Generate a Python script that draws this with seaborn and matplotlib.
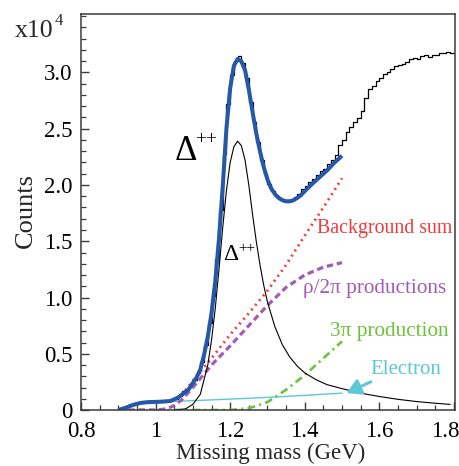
import numpy as np
import pandas as pd
import matplotlib
matplotlib.use("Agg")
import matplotlib.pyplot as plt
import matplotlib.transforms as mtransforms
import seaborn as sns
from matplotlib.ticker import FixedLocator, MultipleLocator

# ---------------- data (values in units of 1e4 counts) ----------------
hist_edges_left = [round(0.90 + 0.01 * i, 2) for i in range(90)]
hist_counts = [
    0.01, 0.02, 0.03, 0.05, 0.06, 0.065, 0.07, 0.07, 0.072, 0.07,      # 0.90-0.99
    0.075, 0.075, 0.078, 0.08, 0.09, 0.10, 0.125, 0.17, 0.18, 0.22,    # 1.00-1.09
    0.27, 0.33, 0.43, 0.58, 0.77, 1.01, 1.34, 1.78, 2.28, 2.72,        # 1.10-1.19
    2.98, 3.10, 3.15, 3.08, 2.95, 2.74, 2.56, 2.38, 2.22, 2.10,        # 1.20-1.29
    2.01, 1.95, 1.90, 1.88, 1.86, 1.87, 1.87, 1.89, 1.92, 1.96,        # 1.30-1.39
    1.99, 2.03, 2.05, 2.09, 2.12, 2.14, 2.19, 2.22, 2.27, 2.36,        # 1.40-1.49
    2.40, 2.47, 2.52, 2.56, 2.60, 2.66, 2.77, 2.85, 2.88, 2.92,        # 1.50-1.59
    2.95, 2.99, 3.00, 3.03, 3.06, 3.07, 3.08, 3.09, 3.12, 3.13,        # 1.60-1.69
    3.12, 3.15, 3.16, 3.14, 3.16, 3.16, 3.17, 3.17, 3.18, 3.17,        # 1.70-1.79
]
bin_width = 0.01

fit_x = [0.90, 0.92, 0.94, 0.96, 0.98, 1.00, 1.02, 1.04, 1.06, 1.08, 1.09, 1.10,
         1.11, 1.12, 1.13, 1.14, 1.15, 1.16, 1.17, 1.18, 1.19, 1.20, 1.21, 1.22,
         1.23, 1.24, 1.25, 1.26, 1.27, 1.28, 1.29, 1.30, 1.31, 1.32, 1.33, 1.34,
         1.35, 1.36, 1.37, 1.38, 1.39, 1.40, 1.42, 1.44, 1.46, 1.48, 1.50]
fit_y = [0.0, 0.02, 0.045, 0.063, 0.07, 0.072, 0.075, 0.08, 0.11, 0.16, 0.19, 0.24,
         0.29, 0.36, 0.49, 0.65, 0.86, 1.14, 1.52, 1.98, 2.50, 2.86, 3.06, 3.12,
         3.10, 3.02, 2.85, 2.65, 2.46, 2.30, 2.16, 2.05, 1.97, 1.92, 1.885, 1.865,
         1.855, 1.855, 1.865, 1.885, 1.91, 1.945, 2.01, 2.07, 2.13, 2.20, 2.26]

delta_x = [1.05, 1.08, 1.10, 1.12, 1.14, 1.15, 1.16, 1.17, 1.18, 1.19, 1.20, 1.21,
           1.22, 1.23, 1.24, 1.25, 1.26, 1.27, 1.28, 1.29, 1.30, 1.32, 1.34, 1.36,
           1.38, 1.40, 1.43, 1.46, 1.50, 1.55, 1.60, 1.65, 1.70, 1.75, 1.79]
delta_y = [0.0, 0.01, 0.05, 0.14, 0.40, 0.62, 0.90, 1.25, 1.62, 1.95, 2.20, 2.34,
           2.39, 2.35, 2.22, 2.00, 1.74, 1.50, 1.29, 1.11, 0.96, 0.74, 0.58, 0.47,
           0.39, 0.33, 0.27, 0.225, 0.19, 0.15, 0.12, 0.095, 0.075, 0.06, 0.05]

bkg_x = [1.07, 1.10, 1.15, 1.20, 1.25, 1.30, 1.35, 1.40, 1.45, 1.50]
bkg_y = [0.13, 0.26, 0.46, 0.67, 0.86, 1.06, 1.29, 1.55, 1.80, 2.06]

rho_x = [0.90, 1.00, 1.03, 1.05, 1.07, 1.10, 1.15, 1.20, 1.25, 1.30, 1.35, 1.40, 1.45, 1.50]
rho_y = [0.0, 0.0, 0.01, 0.04, 0.09, 0.20, 0.40, 0.57, 0.75, 0.93, 1.09, 1.20, 1.27, 1.31]

tri_x = [0.90, 1.20, 1.25, 1.30, 1.35, 1.40, 1.46, 1.50]
tri_y = [0.0, 0.0, 0.015, 0.07, 0.18, 0.31, 0.49, 0.61]

ele_x = [0.90, 0.93, 0.96, 1.00, 1.10, 1.20, 1.30, 1.40, 1.50]
ele_y = [0.0, 0.035, 0.062, 0.07, 0.083, 0.097, 0.112, 0.13, 0.15]

x_ticks = [0.8, 1.0, 1.2, 1.4, 1.6, 1.8]
x_tick_labels = ["0.8", "1", "1.2", "1.4", "1.6", "1.8"]
y_ticks = [0, 0.5, 1.0, 1.5, 2.0, 2.5, 3.0]
y_tick_labels = ["0", "0.5", "1.0", "1.5", "2.0", "2.5", "3.0"]

# ---------------- style ----------------
sns.set_theme(style="ticks")
plt.rcParams["font.family"] = ["Liberation Serif", "DejaVu Serif"]

c_blue = "#2458a8"
c_red = "#f23a3a"
c_purple = "#a35bb5"
c_green = "#6cc23c"
c_cyan = "#5cc8d4"
c_frame = "#3a3a3a"

fig = plt.figure(figsize=(4.6, 4.66), dpi=100)
ax = fig.add_axes([81 / 460, 1 - 410 / 466, 374 / 460, 396 / 466])

# histogram
centers = [e + bin_width / 2 for e in hist_edges_left]
edges = [round(0.90 + 0.01 * i, 2) for i in range(91)]
sns.histplot(x=centers, weights=hist_counts, bins=edges, element="step", fill=False,
             color="black", linewidth=0.9, ax=ax)

# components
sns.lineplot(x=ele_x, y=ele_y, color=c_cyan, linewidth=1.0, ax=ax)
sns.lineplot(x=tri_x, y=tri_y, color=c_green, linewidth=1.9,
             linestyle=(0, (3.0, 1.6, 0.8, 1.6)), ax=ax)
sns.lineplot(x=rho_x, y=rho_y, color=c_purple, linewidth=2.3,
             linestyle=(0, (2.0, 1.2)), ax=ax)
sns.lineplot(x=bkg_x, y=bkg_y, color=c_red, linewidth=2.0,
             linestyle=(0, (0.7, 1.5)), ax=ax)
sns.lineplot(x=delta_x, y=delta_y, color="black", linewidth=0.8, ax=ax)
sns.lineplot(x=fit_x, y=fit_y, color=c_blue, linewidth=2.9, ax=ax,
             solid_capstyle="butt")

# axes
ax.set_xlim(0.8, 1.803)
ax.set_ylim(0, 3.52)
ax.xaxis.set_major_locator(FixedLocator(x_ticks))
ax.set_xticklabels(x_tick_labels)
ax.yaxis.set_major_locator(FixedLocator(y_ticks))
ax.set_yticklabels(y_tick_labels)
ax.xaxis.set_minor_locator(MultipleLocator(0.05))
ax.yaxis.set_minor_locator(MultipleLocator(0.1))
ax.tick_params(which="both", direction="in", colors=c_frame, labelcolor="black",
               top=False, right=False, labelsize=16.5)
ax.tick_params(which="major", length=6, width=1.0)
ax.tick_params(which="minor", length=3.5, width=0.9)
ax.tick_params(axis="x", pad=8)
ax.tick_params(axis="y", pad=6)
for s in ax.spines.values():
    s.set_color(c_frame)
    s.set_linewidth(1.1)
    s.set_visible(True)

# shift last x tick label inward like the reference
last = ax.get_xticklabels()[-1]
last.set_transform(last.get_transform() + mtransforms.ScaledTranslation(-9 / 100, 0, fig.dpi_scale_trans))

ax.set_xlabel("Missing mass (GeV)", fontsize=16.5)
ax.set_ylabel("Counts", fontsize=19)
ax.xaxis.set_label_coords(0.508, -0.082)
ax.yaxis.set_label_coords(-0.118, 0.505)

fig.text(15 / 460, 1 - 37 / 466, "x10", fontsize=18.5, ha="left", va="baseline")
fig.text(55 / 460, 1 - 25 / 466, "4", fontsize=12, ha="left", va="baseline")

# annotations
ax.text(1.052, 2.30, "Δ", fontsize=25, ha="left", va="center", color="black")
ax.text(1.106, 2.40, "++", fontsize=14, ha="left", va="center", color="black")
ax.text(1.181, 1.378, "Δ", fontsize=17, ha="left", va="center", color="black")
ax.text(1.221, 1.431, "++", fontsize=11, ha="left", va="center", color="black")
ax.text(1.433, 1.61, "Background sum", fontsize=14.3, color=c_red, ha="left", va="center")
ax.text(1.395, 1.08, "ρ/2π productions", fontsize=15.3, color=c_purple, ha="left", va="center")
ax.text(1.468, 0.70, "3π production", fontsize=15.3, color=c_green, ha="left", va="center")
ax.text(1.575, 0.36, "Electron", fontsize=15, color=c_cyan, ha="left", va="center")
ax.annotate("", xy=(1.512, 0.15), xytext=(1.577, 0.25),
            arrowprops=dict(arrowstyle="-|>,head_length=0.7,head_width=0.4",
                            color=c_cyan, lw=2.2, shrinkA=0, shrinkB=0))

fig.savefig("out.png", dpi=100)
